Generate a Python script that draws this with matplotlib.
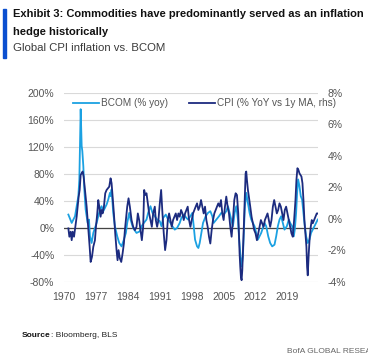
import matplotlib
matplotlib.use('Agg')
import matplotlib.pyplot as plt
from matplotlib.ticker import FuncFormatter
import matplotlib.patches as patches

# BCOM % yoy (left axis)
bcom_year = [1970.95, 1971.68, 1972.04, 1972.41, 1972.77, 1973.14, 1973.36, 1973.65, 1973.87, 1974.01,
             1974.23, 1974.45, 1974.74, 1975.18, 1975.47, 1975.69, 1976.05, 1976.42, 1976.78, 1977.15,
             1977.51, 1977.88, 1978.24, 1978.61, 1978.97, 1979.34, 1979.70, 1980.07, 1980.21, 1980.43,
             1980.79, 1981.16, 1981.67, 1982.11, 1982.62, 1983.13, 1983.57, 1983.86, 1984.30, 1984.59,
             1985.03, 1985.39, 1985.90, 1986.63, 1987.00, 1987.51, 1988.09, 1988.45, 1988.96, 1989.40,
             1989.91, 1990.42, 1991.01, 1991.37, 1991.74, 1992.32, 1992.83, 1993.34, 1993.78, 1994.29,
             1994.80, 1995.38, 1995.75, 1996.26, 1996.84, 1997.21, 1997.72, 1998.15, 1998.45, 1998.74,
             1999.18, 1999.47, 1999.76, 2000.12, 2000.49, 2001.07, 2001.58, 2002.09, 2002.53, 2002.82,
             2003.41, 2003.99, 2004.50, 2005.01, 2005.59, 2005.96, 2006.32, 2006.69, 2007.05, 2007.42,
             2007.78, 2008.15, 2008.37, 2008.66, 2008.95, 2009.24, 2009.46, 2009.68, 2009.97, 2010.34,
             2010.70, 2011.07, 2011.43, 2011.79, 2012.16, 2012.52, 2012.89, 2013.25, 2013.62, 2013.98,
             2014.35, 2014.79, 2015.22, 2015.66, 2016.17, 2016.54, 2016.90, 2017.27, 2017.63, 2018.00,
             2018.36, 2018.87, 2019.31, 2019.60, 2020.04, 2020.40, 2020.62, 2020.91, 2021.13, 2021.35,
             2021.64, 2021.93, 2022.22, 2022.52, 2022.81, 2023.10, 2023.46, 2023.83, 2024.19, 2024.56,
             2024.92, 2025.29, 2025.65]
bcom_val = [19.8, 7.4, 12.4, 17.3, 32.2, 47.1, 71.9, 175.9, 121.4, 114.0,
            91.7, 57.0, 27.3, 7.4, 12.4, -12.4, -22.3, -7.4, 0.0, 7.4,
            17.3, 27.3, 32.2, 24.8, 29.7, 34.7, 42.1, 52.0, 47.1, 57.0,
            22.3, 2.5, -12.4, -22.3, -27.3, -17.3, -7.4, 7.4, 22.3, 12.4,
            2.5, -2.5, -7.4, -5.0, 2.5, 7.4, 12.4, 22.3, 32.2, 22.3,
            17.3, 12.4, 9.9, 2.5, 14.9, 19.8, 12.4, 7.4, 2.5, -2.5,
            0.0, 7.4, 14.9, 19.8, 14.9, 12.4, 17.3, 22.3, 2.5, -17.3,
            -27.3, -29.7, -22.3, -7.4, 7.4, 17.3, 22.3, 24.8, 17.3, 7.4,
            12.4, 17.3, 22.3, 19.8, 24.8, 32.2, 22.3, 12.4, 2.5, 22.3,
            32.2, 12.4, -12.4, -37.2, -57.0, -42.1, -2.5, 32.2, 52.0, 37.2,
            22.3, 12.4, 7.4, 2.5, -7.4, -17.3, -12.4, -7.4, 0.0, 7.4,
            2.5, -12.4, -22.3, -27.3, -24.8, -12.4, 2.5, 12.4, 17.3, 7.4,
            -2.5, 2.5, 12.4, 7.4, 2.5, -12.4, -2.5, 22.3, 52.0, 71.9,
            62.0, 47.1, 42.1, 22.3, 2.5, -12.4, -22.3, -17.3, -7.4, -2.5,
            2.5, 7.4, 12.4]

# CPI % YoY vs 1y MA (right axis)
cpi_year = [1970.95, 1971.17, 1971.46, 1971.68, 1971.90, 1972.19, 1972.48, 1972.77, 1972.99, 1973.21,
            1973.43, 1973.65, 1973.87, 1974.08, 1974.30, 1974.52, 1974.74, 1974.96, 1975.18, 1975.40,
            1975.62, 1975.84, 1976.13, 1976.42, 1976.78, 1977.00, 1977.29, 1977.51, 1977.73, 1978.02,
            1978.24, 1978.46, 1978.75, 1979.04, 1979.34, 1979.63, 1979.92, 1980.21, 1980.43, 1980.65,
            1980.94, 1981.23, 1981.52, 1981.74, 1981.96, 1982.25, 1982.55, 1982.84, 1983.13, 1983.35,
            1983.57, 1983.86, 1984.15, 1984.44, 1984.81, 1985.17, 1985.54, 1985.90, 1986.19, 1986.48,
            1986.78, 1987.07, 1987.36, 1987.58, 1987.80, 1988.09, 1988.38, 1988.67, 1988.96, 1989.26,
            1989.55, 1989.91, 1990.13, 1990.42, 1990.71, 1991.01, 1991.30, 1991.59, 1991.88, 1992.17,
            1992.47, 1992.76, 1993.05, 1993.34, 1993.63, 1993.92, 1994.22, 1994.51, 1994.80, 1995.09,
            1995.38, 1995.67, 1995.97, 1996.26, 1996.55, 1996.84, 1997.13, 1997.43, 1997.72, 1998.01,
            1998.30, 1998.59, 1998.88, 1999.18, 1999.47, 1999.76, 2000.05, 2000.34, 2000.63, 2000.93,
            2001.22, 2001.51, 2001.80, 2002.09, 2002.38, 2002.68, 2002.97, 2003.26, 2003.55, 2003.84,
            2004.14, 2004.43, 2004.72, 2005.01, 2005.30, 2005.59, 2005.89, 2006.18, 2006.47, 2006.76,
            2007.05, 2007.35, 2007.64, 2007.93, 2008.22, 2008.37, 2008.51, 2008.66, 2008.80, 2008.95,
            2009.10, 2009.24, 2009.39, 2009.53, 2009.68, 2009.83, 2009.97, 2010.12, 2010.34, 2010.55,
            2010.85, 2011.14, 2011.43, 2011.72, 2012.01, 2012.31, 2012.60, 2012.89, 2013.18, 2013.47,
            2013.76, 2014.06, 2014.35, 2014.64, 2014.93, 2015.22, 2015.51, 2015.81, 2016.10, 2016.39,
            2016.68, 2016.97, 2017.26, 2017.56, 2017.85, 2018.14, 2018.43, 2018.72, 2019.02, 2019.31,
            2019.60, 2019.89, 2020.18, 2020.47, 2020.77, 2020.98, 2021.20, 2021.42, 2021.64, 2021.86,
            2022.08, 2022.30, 2022.52, 2022.73, 2022.95, 2023.17, 2023.32, 2023.46, 2023.68, 2023.90,
            2024.12, 2024.34, 2024.56, 2024.85, 2025.14, 2025.44, 2025.66]
cpi_val = [-0.60, -1.13, -0.81, -1.35, -0.81, -1.13, -0.50, 0.14, 0.78, 1.42,
           1.84, 2.80, 2.90, 3.01, 2.69, 2.05, 1.42, 0.78, -0.07, -0.92,
           -1.77, -2.73, -2.41, -1.77, -1.35, -0.50, 0.35, 1.20, 0.78, 0.14,
           0.57, 0.35, 0.78, 1.63, 1.84, 1.95, 2.05, 2.58, 2.27, 1.42,
           0.35, -0.92, -1.98, -2.62, -1.98, -2.51, -2.73, -2.20, -1.56, -0.71,
           -0.07, 0.78, 1.31, 0.78, -0.07, -0.50, -0.71, -0.50, 0.35, -0.07,
           -0.71, -1.35, -0.50, 1.84, 1.52, 1.63, 0.99, 0.35, -0.07, -0.50,
           0.35, 0.78, -0.07, -0.50, -0.07, 0.99, 1.84, 0.35, -0.92, -1.98,
           -1.35, -0.07, 0.35, -0.07, -0.50, -0.07, 0.14, 0.35, -0.07, 0.35,
           0.14, 0.57, 0.35, -0.07, 0.35, 0.57, 0.78, -0.07, -0.50, -0.07,
           0.35, 0.57, 0.78, 0.99, 0.57, 0.78, 1.20, 0.78, 0.35, 0.78,
           -0.07, -0.50, -1.13, -1.56, -0.71, -0.07, 0.35, 0.57, 0.78, 0.99,
           0.78, 1.20, 0.35, -0.07, 0.78, 1.42, 0.78, 0.35, -0.50, -1.13,
           -0.07, 1.20, 1.63, 1.52, 0.35, -0.92, -2.20, -3.05, -3.68, -3.89,
           -3.26, -2.20, -0.92, 0.35, 1.63, 2.90, 3.01, 2.48, 1.84, 1.42,
           0.78, 0.14, -0.28, -0.71, -0.92, -1.35, -0.92, -0.50, -0.07, -0.28,
           -0.50, -0.07, 0.14, 0.35, -0.07, -0.50, -0.07, 0.78, 1.20, 0.78,
           0.35, 0.57, 0.99, 0.78, 0.35, -0.07, 0.57, 0.78, 0.35, -0.07,
           -0.50, -0.92, -1.13, -0.07, 1.20, 2.48, 3.22, 3.11, 2.90, 2.80,
           2.69, 2.27, 1.20, -0.07, -0.92, -1.77, -3.05, -3.58, -2.20, -1.13,
           -0.50, -0.07, -0.28, -0.07, 0.14, 0.35, 0.35]

x_ticks = [1970, 1977, 1984, 1991, 1998, 2005, 2012, 2019]
left_ticks = [-80, -40, 0, 40, 80, 120, 160, 200]
right_ticks = [-4, -2, 0, 2, 4, 6, 8]

light_blue = '#1ba1e2'
navy = '#1c2b7f'
grey_txt = '#555555'

plt.rcParams['font.family'] = ['Liberation Sans', 'DejaVu Sans']

fig = plt.figure(figsize=(3.68, 3.56), dpi=100)
ax = fig.add_axes([0.174, 0.208, 0.690, 0.531])

# header
fig.patches.append(patches.Rectangle((0.008, 0.838), 0.009, 0.137, transform=fig.transFigure,
                                     color='#0a4fd0', zorder=5))
fig.text(0.035, 0.961, 'Exhibit 3: Commodities have predominantly served as an inflation',
         fontsize=8.0, fontweight='bold', color='#111111', va='center')
fig.text(0.035, 0.91, 'hedge historically', fontsize=8.0, fontweight='bold',
         color='#111111', va='center')
fig.text(0.035, 0.865, 'Global CPI inflation vs. BCOM', fontsize=8.2,
         color='#3a3a3a', va='center')

l1, = ax.plot(bcom_year, bcom_val, color=light_blue, lw=1.3, zorder=3)
ax.axhline(0, color='#444444', lw=0.9, zorder=2)
ax.set_xlim(1970, 2025.7)
ax.set_ylim(-80, 200)
ax.set_yticks(left_ticks)
ax.yaxis.set_major_formatter(FuncFormatter(lambda v, p: f'{v:.0f}%'))
ax.set_xticks(x_ticks)
ax.grid(axis='y', color='#d9d9d9', lw=0.8, zorder=0)
ax.set_axisbelow(True)
for s in ax.spines.values():
    s.set_visible(False)
ax.tick_params(length=0, labelsize=7.5, labelcolor=grey_txt, pad=7)

ax2 = ax.twinx()
l2, = ax2.plot(cpi_year, cpi_val, color=navy, lw=1.3, zorder=3)
ax2.set_ylim(-4, 8)
ax2.set_yticks(right_ticks)
ax2.yaxis.set_major_formatter(FuncFormatter(lambda v, p: f'{v:.0f}%'))
for s in ax2.spines.values():
    s.set_visible(False)
ax2.tick_params(length=0, labelsize=7.5, labelcolor=grey_txt, pad=7)

ax2.legend([l1, l2], ['BCOM (% yoy)', 'CPI (% YoY vs 1y MA, rhs)'], ncol=2,
           loc='upper left', bbox_to_anchor=(0.0, 1.02), frameon=False,
           fontsize=7.2, handlelength=2.6, handletextpad=0.2, columnspacing=2.1,
           labelcolor=grey_txt)

# source line
src = fig.text(0.06, 0.058, 'Source', fontsize=6, fontweight='bold', color='#111111', va='center')
fig.canvas.draw()
bb = src.get_window_extent()
fig.text(bb.x1 / fig.bbox.width, 0.058, ': Bloomberg, BLS', fontsize=6, color='#222222', va='center')
fig.text(0.78, 0.012, 'BofA GLOBAL RESEARCH', fontsize=6.0, color='#666666', va='center')

plt.savefig('out.png', dpi=100)
